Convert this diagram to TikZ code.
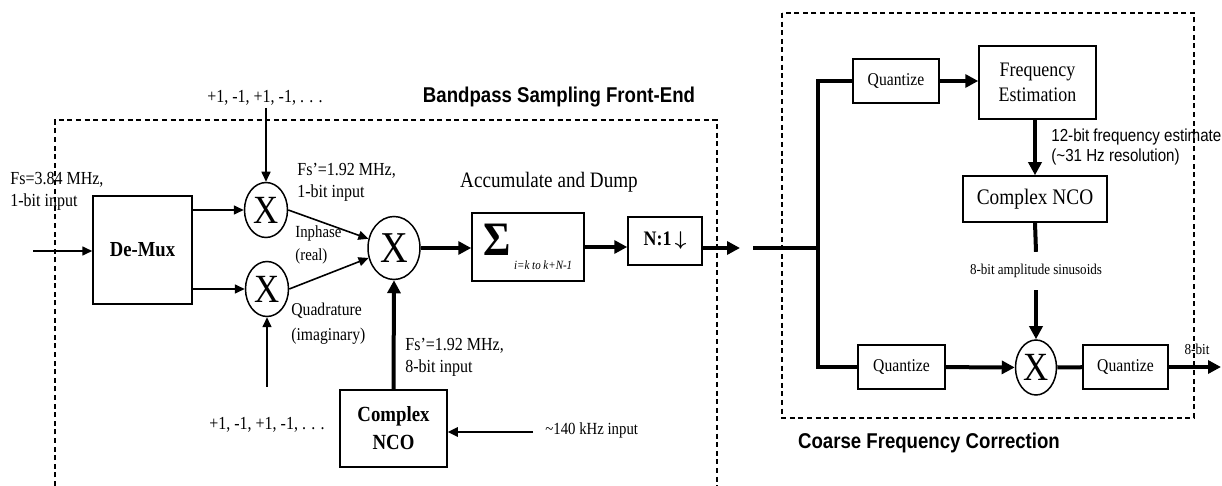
\documentclass[tikz,border=0pt]{standalone}
\usepackage{fontspec}
\setmainfont[FakeStretch=0.87]{Liberation Serif}
\setsansfont[FakeStretch=0.87]{Liberation Sans}
\usetikzlibrary{positioning,arrows.meta,calc,shapes.geometric}

\begin{document}
\begin{tikzpicture}[x=0.5pt, y=-0.5pt,
  every node/.style={align=center, inner sep=1pt, font=\fontsize{9.2}{11}\selectfont},
  blk/.style={draw, line width=0.75pt, inner sep=0pt},
  mult/.style={draw, ellipse, line width=0.75pt, inner sep=0pt, font=\fontsize{20}{20}\selectfont},
  sig/.style={line width=0.8pt, -{Triangle[length=5pt,width=4.5pt]}},
  flow/.style={line width=2pt, -{Triangle[length=6.5pt,width=6.5pt]}},
  bus/.style={line width=2pt},
  zone/.style={line width=0.75pt, dash pattern=on 2.5pt off 1.8pt},
  ttl/.style={font=\sffamily\bfseries\fontsize{10.7}{12}\selectfont},
  qfont/.style={font=\fontsize{9}{10}\selectfont}]
  \useasboundingbox (0,0) rectangle (1222,486);

  % dashed regions and their titles
  \draw[zone] (55,486) -- (55,120) -- (717,120) -- (717,486);
  \draw[zone] (782,13) rectangle (1194,418);
  \node[ttl] (tfront) at (559,97) {Bandpass Sampling Front-End};
  \node[ttl] (tcoarse) at (929,443) {Coarse Frequency Correction};

  % bandpass sampling front-end
  \node[blk, minimum width=49.5pt, minimum height=54pt,
        font=\bfseries\fontsize{10.7}{12}\selectfont] (demux) at (142.5,250) {De-Mux};
  \node[mult, minimum width=21.5pt, minimum height=27.5pt] (mi) at (266,210) {X};
  \node[mult, minimum width=21.5pt, minimum height=27.5pt] (mq) at (267,289) {X};
  \node[mult, minimum width=26pt, minimum height=31.5pt, font=\fontsize{22}{22}\selectfont] (mc) at (394,248) {X};
  \node[blk, minimum width=56pt, minimum height=34pt] (acc) at (528,247)
    {{\fontsize{24}{24}\selectfont\textbf{Σ}}\,\raisebox{-7pt}{\fontsize{6.3}{7}\selectfont\textit{i=k to k+N-1}}};
  \node[blk, minimum width=37pt, minimum height=24pt,
        font=\bfseries\fontsize{10.3}{12}\selectfont] (dec) at (665,241) {N:1\,{\boldmath$\downarrow$}};
  \node[blk, minimum width=53.5pt, minimum height=38.5pt,
        font=\bfseries\fontsize{10.8}{14}\selectfont] (ncoa) at (393.5,428.5) {Complex\\NCO};

  \node[anchor=west, align=left] (fsin) at (8,191) {Fs=3.84 MHz,\\1-bit input};
  \node (pmtop) at (265,98) {+1, -1, +1, -1, . . .};
  \node (pmbot) at (267,425) {+1, -1, +1, -1, . . .};
  \node[anchor=west, align=left] (fsi) at (295,182) {Fs’=1.92 MHz,\\1-bit input};
  \node[anchor=west, align=left, font=\fontsize{8.5}{11.5}\selectfont] (iph) at (293,245) {Inphase\\(real)};
  \node[anchor=west, align=left, font=\fontsize{9}{12.5}\selectfont] (quad) at (289,324) {Quadrature\\(imaginary)};
  \node[font=\fontsize{11}{12}\selectfont] (accl) at (549,182) {Accumulate and Dump};
  \node[anchor=west, align=left] (fsn) at (403,357) {Fs’=1.92 MHz,\\8-bit input};
  \node[anchor=west, font=\fontsize{8.5}{10}\selectfont] (f140) at (543,430) {\textasciitilde140 kHz input};

  % coarse frequency correction
  \node[blk, qfont, minimum width=43pt, minimum height=22pt] (qa) at (896,81) {Quantize};
  \node[blk, minimum width=58.5pt, minimum height=36.5pt,
        font=\fontsize{10.3}{12.5}\selectfont] (fe) at (1037.5,82.5) {Frequency\\Estimation};
  \node[blk, minimum width=72pt, minimum height=23pt,
        font=\fontsize{11.1}{12}\selectfont] (ncob) at (1035,199) {Complex NCO};
  \node[blk, qfont, minimum width=43.5pt, minimum height=22pt] (qb) at (901.5,367) {Quantize};
  \node[mult, minimum width=20.5pt, minimum height=27.5pt] (mx) at (1036,367.5) {X};
  \node[blk, qfont, minimum width=42.5pt, minimum height=22pt] (qc) at (1125.5,367) {Quantize};
  \node[anchor=west, align=left, font=\sffamily\fontsize{8.7}{10}\selectfont] (fest) at (1049,147)
    {12-bit frequency estimate\\(\textasciitilde31 Hz resolution)};
  \node[font=\fontsize{7.5}{8}\selectfont, inner ysep=6pt] (sinl) at (1036,271) {8-bit amplitude sinusoids};
  \node[font=\fontsize{7.6}{8}\selectfont] (bit8) at (1197,349) {8-bit};

  \coordinate (din) at (33,251);
  \coordinate (pmup) at (267,387);
  \coordinate (fin) at (533,432);
  \coordinate (aout) at (740,248);
  \coordinate (bin) at (753,248);
  \coordinate (jn) at (818,248);
  \coordinate (yout) at (1221,367);

  % connectors, front-end
  \draw[sig] (din) -- (din -| demux.west);
  \draw[sig] (demux.east |- mi) -- (mi.west);
  \draw[sig] (demux.east |- mq) -- (mq.west);
  \draw[sig] (pmtop.south -| mi) -- (mi.north);
  \draw[sig] (pmup) -- (mq.south);
  \draw[sig] (mi.east) -- (mc);
  \draw[sig] (mq.east) -- (mc);
  \draw[flow] (mc.east) -- (mc.east -| acc.west);
  \draw[flow] (acc.east) -- (acc.east -| dec.west);
  \draw[flow] (dec.east |- aout) -- (aout);
  \draw[flow] (ncoa.north) -- (mc.south);
  \draw[sig, line width=1.2pt] (fin) -- (fin -| ncoa.east);

  % connectors, coarse correction
  \draw[bus] (bin) -- (jn);
  \draw[bus] (qa.west) -| (jn) |- (qb.west);
  \draw[flow] (qa.east) -- (qa.east -| fe.west);
  \draw[flow] (fe.south -| ncob.north) -- (ncob.north);
  \draw[bus] (ncob.south) -- (sinl.north);
  \draw[flow] (sinl.south) -- (mx.north);
  \draw[flow] (qb) -- (mx);
  \draw[bus] (mx) -- (qc);
  \draw[flow] (qc) -- (yout);
\end{tikzpicture}
\end{document}
